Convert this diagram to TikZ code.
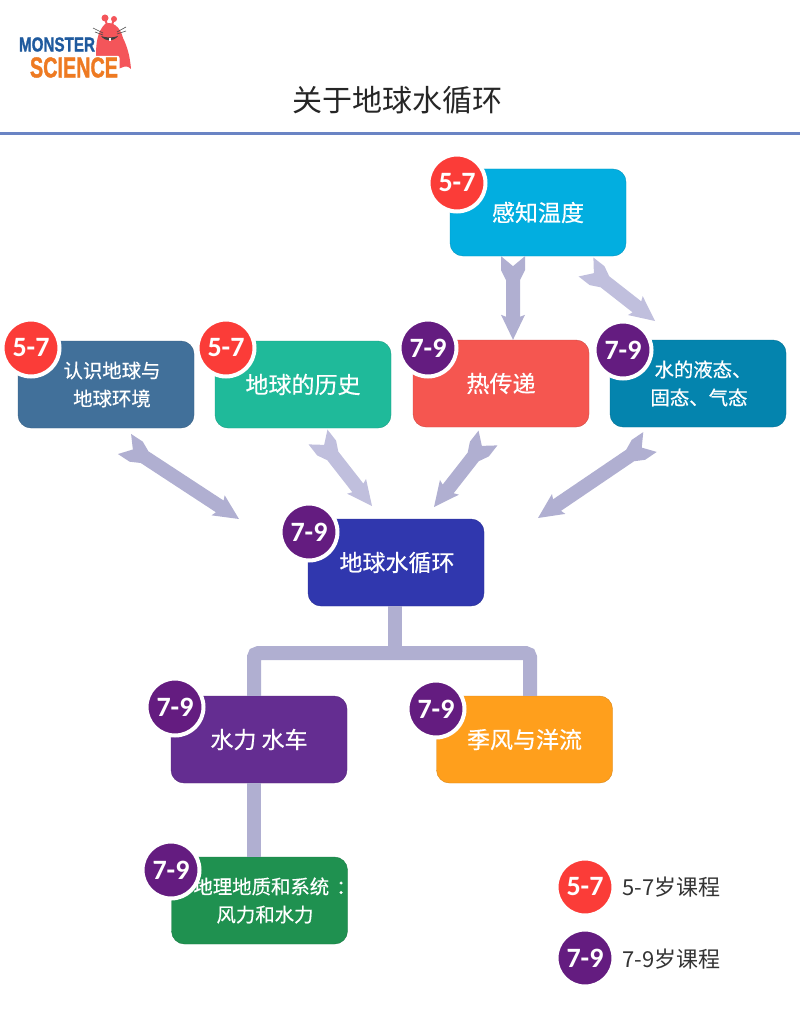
\documentclass[tikz,border=0pt]{standalone}
\usepackage{fontspec}
\usepackage{graphicx}
\setmainfont{Noto Sans CJK SC}
\newfontfamily\boxfont[FakeBold=0.5]{Noto Sans CJK SC}
\newfontfamily\badgefont{Carlito}
\newfontfamily\logofont[FakeBold=1.5]{Liberation Sans}
\usetikzlibrary{calc}
\definecolor{linkblue}{HTML}{B0AFD1}
\definecolor{linklight}{HTML}{C0BFDD}
\definecolor{badgered}{HTML}{FB3C38}
\definecolor{badgepurple}{HTML}{641C80}
\definecolor{senseblue}{HTML}{02AEE0}
\definecolor{earthblue}{HTML}{41709A}
\definecolor{historygreen}{HTML}{1FBA9A}
\definecolor{heatred}{HTML}{F55650}
\definecolor{statesblue}{HTML}{0484AE}
\definecolor{cycleblue}{HTML}{3037AE}
\definecolor{wheelpurple}{HTML}{642D91}
\definecolor{monsoonorange}{HTML}{FF9F1C}
\definecolor{windgreen}{HTML}{1F9150}
\definecolor{rulerblue}{HTML}{6A84C4}
\definecolor{monsterred}{HTML}{F4555A}
\definecolor{monsterblue}{HTML}{1F5A9E}
\definecolor{monsterorange}{HTML}{EE7A22}
\tikzset{
  box/.style={rectangle,rounded corners=13pt,minimum width=176pt,minimum height=87pt,inner sep=0pt,
    text=white,align=center,draw=#1!85!black,fill=#1},
  bigtext/.style={font=\boxfont\fontsize{23}{28}\selectfont},
  smalltext/.style={font=\boxfont\fontsize{19.4}{28}\selectfont},
  badge/.style={circle,minimum size=57pt,inner sep=0pt,draw=white,line width=4pt,fill=#1,text=white,
    font=\badgefont\bfseries\fontsize{28}{28}\selectfont},
  treeline/.style={draw=linkblue,line width=14pt},
  legendtext/.style={anchor=west,inner sep=0pt,text=black!80,font=\fontsize{22}{26}\selectfont}
}
\newcommand{\fatarrow}[3][linkblue]{
  \fill[#1]
  ($(#2)!10pt!(#3)$)
  -- ($(#2)!0pt!(#3)!12pt!90:(#3)$)
  -- ($(#2)!14pt!(#3)!12pt!90:(#3)$)
  -- ($(#2)!24pt!(#3)!7pt!90:(#3)$)
  -- ($(#3)!23pt!(#2)!7pt!-90:(#2)$)
  -- ($(#3)!25pt!(#2)!12pt!-90:(#2)$)
  -- (#3)
  -- ($(#3)!25pt!(#2)!12pt!90:(#2)$)
  -- ($(#3)!23pt!(#2)!7pt!90:(#2)$)
  -- ($(#2)!24pt!(#3)!7pt!-90:(#3)$)
  -- ($(#2)!14pt!(#3)!12pt!-90:(#3)$)
  -- ($(#2)!0pt!(#3)!12pt!-90:(#3)$)
  -- cycle;
}
\begin{document}
\begin{tikzpicture}[x=1pt,y=-1pt]
  \useasboundingbox (0,0) rectangle (800,1027);

  \fill[monsterred] (105,24)
  .. controls (112,21) and (120,26) .. (123,38)
  .. controls (127,46) and (130,56) .. (131,69)
  .. controls (126,64) and (122,68) .. (118,69)
  -- (96,56)
  .. controls (96,44) and (97,32) .. (105,24) -- cycle;
  \fill[monsterred] (105,18) circle (3.5) (114,19) circle (3);
  \draw[monsterred,line width=2pt] (105,18) -- (107,25) (114,19) -- (112,25);
  \draw[black!70,line width=0.6pt]
  (93,28) -- (103,33)
  (95,32) -- (103,35)
  (126,27) -- (117,32)
  (126,31) -- (117,34);
  \fill[black!75] (101,36) .. controls (106,42) and (113,42) .. (118,36)
  .. controls (113,38) and (106,38) .. (101,36) -- cycle;
  \fill[white] (108.5,38.5) rectangle (111,41.5);
  \node[inner sep=0pt,text=monsterblue] (monster) at (57,44.5)
  {\resizebox{76pt}{14pt}{\logofont\bfseries MONSTER}};
  \node[inner sep=1.5pt,fill=white,rounded corners=2pt,text=monsterorange] (science) at (74,67.5)
  {\resizebox{88pt}{20pt}{\logofont\bfseries SCIENCE}};

  \node[inner sep=0pt,text=black!85,font=\fontsize{30}{36}\selectfont] (title) at (397,100) {关于地球水循环};
  \coordinate (rule left) at (0,133.5);
  \coordinate (rule right) at (800,133.5);
  \draw[rulerblue,line width=2.5pt] (rule left) -- (rule right);

  \node[box=senseblue,bigtext] (sense) at (538,212.5) {感知温度};
  \node[box=earthblue,smalltext] (earth) at (106,384.5) {\hspace*{12pt}认识地球与\\\hspace*{12pt}地球环境};
  \node[box=historygreen,bigtext] (history) at (303,384.5) {地球的历史};
  \node[box=heatred,bigtext] (heat) at (501,383.5) {热传递};
  \node[box=statesblue,smalltext] (states) at (698,383.5) {\hspace*{10pt}水的液态、\\\hspace*{2pt}固态、气态};
  \node[box=cycleblue,bigtext] (cycle) at (396,562.5) {\hspace*{2pt}地球水循环};
  \node[box=wheelpurple,bigtext] (wheel) at (259,739.5) {水力 水车};
  \node[box=monsoonorange,bigtext] (monsoon) at (524.5,739.5) {季风与洋流};
  \node[box=windgreen,smalltext] (wind) at (259.5,900.5) {\hspace*{21pt}地理地质和系统\kern7pt：\kern-9pt\\\hspace*{11pt}风力和水力};

  \coordinate (wheel top) at ([xshift=-5pt]wheel.north);
  \coordinate (wheel bottom) at ([xshift=-5pt]wheel.south);
  \coordinate (wind top) at ([xshift=-5.5pt]wind.north);
  \coordinate (monsoon top) at ([xshift=5.5pt]monsoon.north);
  \coordinate (bar) at ([yshift=-47pt]cycle.south);
  \draw[treeline] ([xshift=-1pt]cycle.south) -- ([xshift=-1pt]bar);
  \draw[treeline,rounded corners=4pt]
  (wheel top)
  -- (wheel top |- bar)
  -- (monsoon top |- bar)
  -- (monsoon top);
  \draw[treeline] (wheel bottom) -- (wind top);

  \coordinate (sense tail a) at ([xshift=-25pt]sense.south);
  \coordinate (heat tip) at ([xshift=12pt]heat.north);
  \coordinate (sense tail b) at (586,267);
  \coordinate (states tip) at (655,321);
  \coordinate (earth tail) at (124.5,444);
  \coordinate (cycle tip a) at (239,519);
  \coordinate (history tail) at (318,437);
  \coordinate (cycle tip b) at (372,506);
  \coordinate (heat tail) at (488,438);
  \coordinate (cycle tip c) at (434,507);
  \coordinate (states tail) at (650,442);
  \coordinate (cycle tip d) at (538,518);
  \fatarrow{sense tail a}{heat tip}
  \fatarrow[linklight]{sense tail b}{states tip}
  \fatarrow{earth tail}{cycle tip a}
  \fatarrow[linklight]{history tail}{cycle tip b}
  \fatarrow{heat tail}{cycle tip c}
  \fatarrow{states tail}{cycle tip d}

  \node[badge=badgered] (sense badge) at (457,183) {5-7};
  \node[badge=badgered] (earth badge) at (31,348) {5-7};
  \node[badge=badgered] (history badge) at (226,348) {5-7};
  \node[badge=badgepurple] (heat badge) at (428,348) {7-9};
  \node[badge=badgepurple] (states badge) at (623,350) {7-9};
  \node[badge=badgepurple] (cycle badge) at (309,532) {7-9};
  \node[badge=badgepurple] (wheel badge) at (175,707) {7-9};
  \node[badge=badgepurple] (monsoon badge) at (436,709) {7-9};
  \node[badge=badgepurple] (wind badge) at (171,870) {7-9};

  \node[badge=badgered] (legend red) at (585,887) {5-7};
  \node[badge=badgepurple] (legend purple) at (585,958) {7-9};
  \node[legendtext] (legend red text) at (622,887) {5-7岁课程};
  \node[legendtext] (legend purple text) at (622,959) {7-9岁课程};
\end{tikzpicture}
\end{document}
